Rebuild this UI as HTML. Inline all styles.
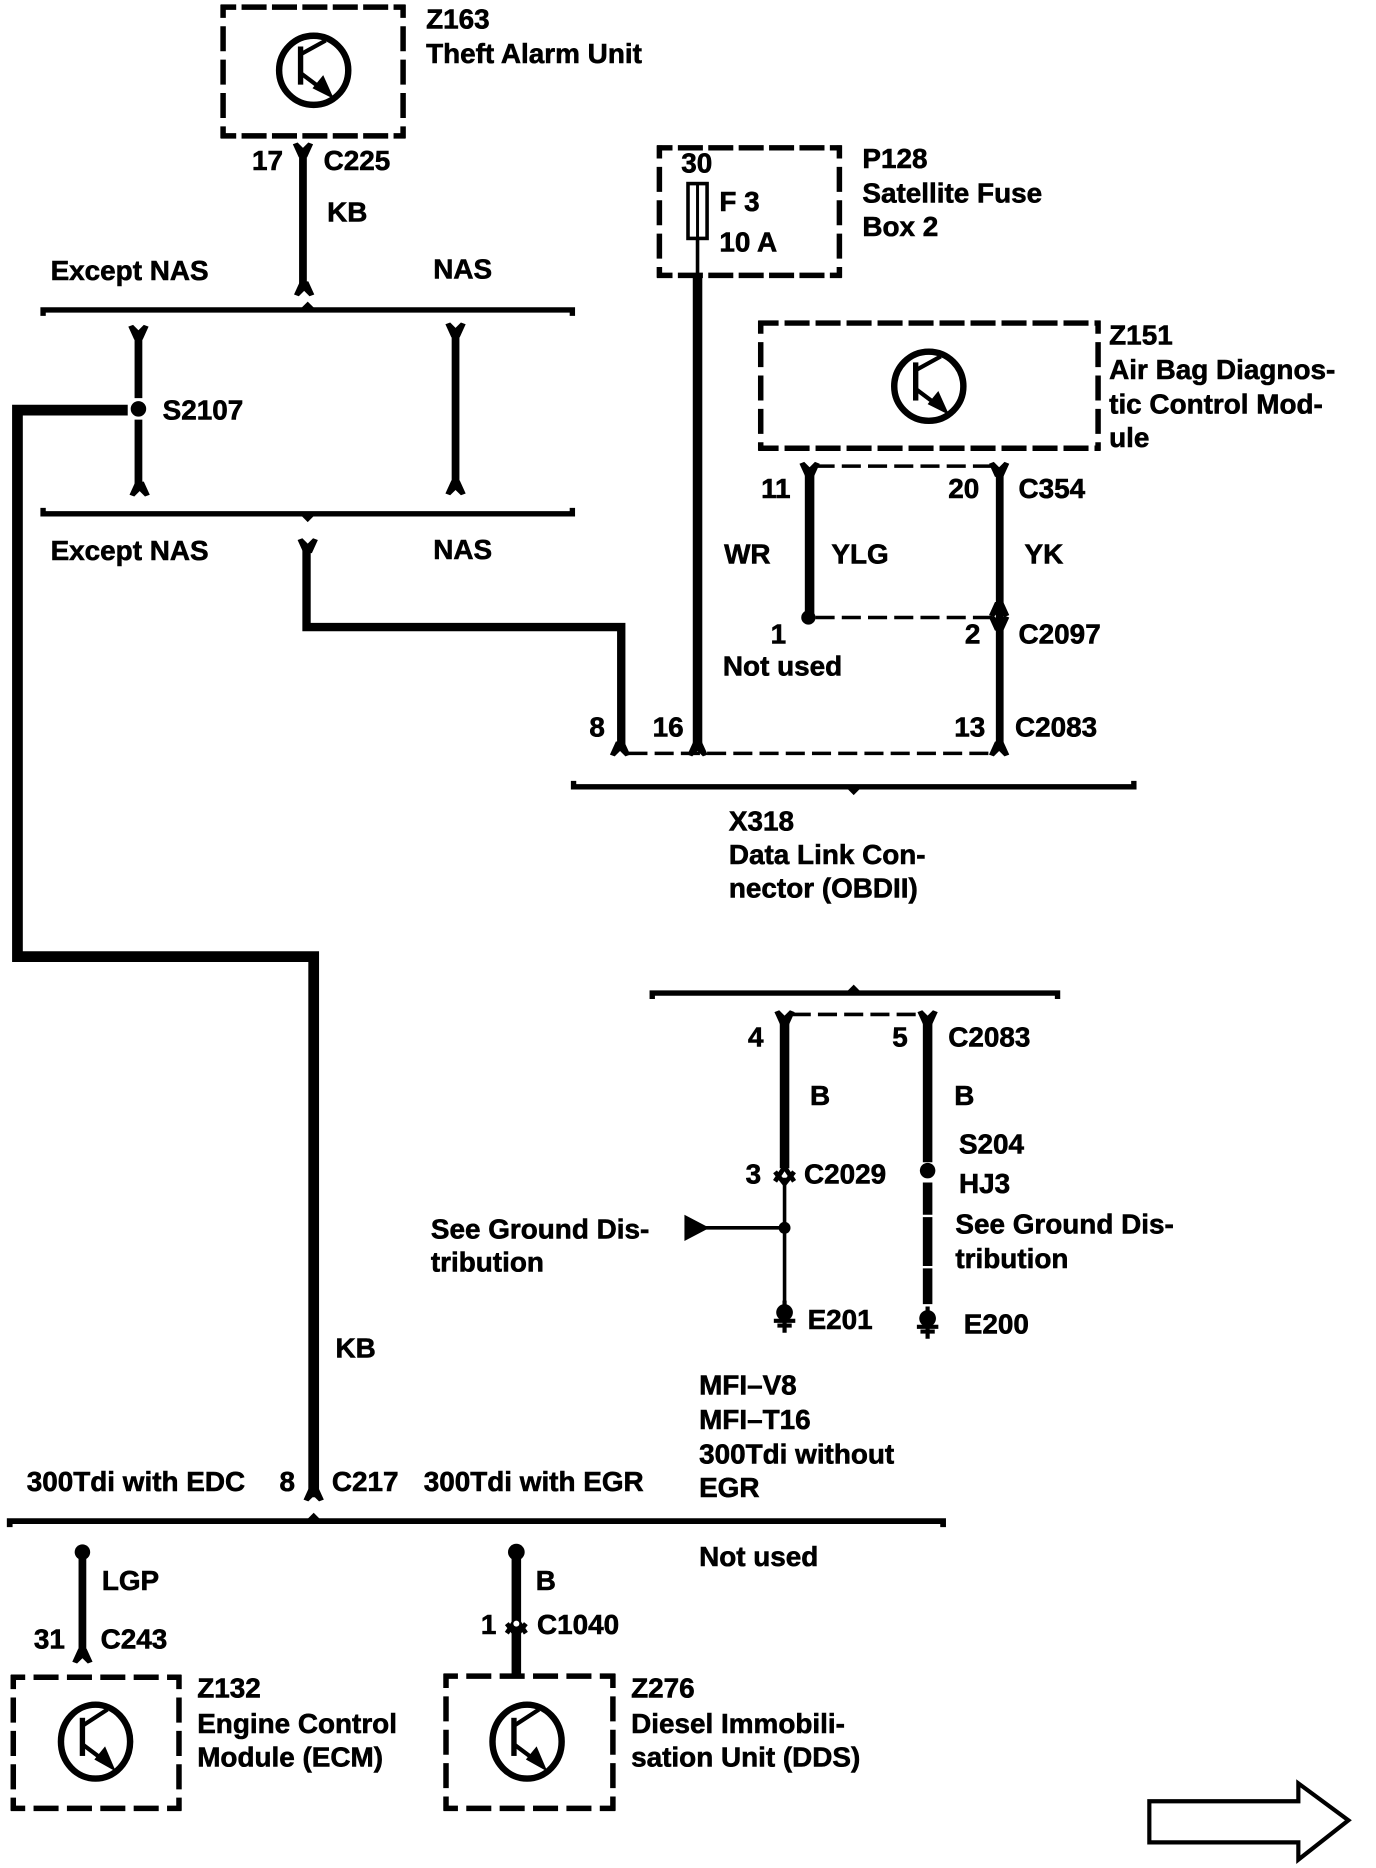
<!DOCTYPE html>
<html><head><meta charset="utf-8"><style>
html,body{margin:0;padding:0;background:#fff;width:1376px;height:1868px;overflow:hidden}
svg{display:block}
text{font-family:"Liberation Sans",sans-serif;font-weight:bold;font-size:23.4px;fill:#000;stroke:#000;stroke-width:.5px;transform:translate(-.7px,-1.2px)}
.b{fill:none;stroke:#000;stroke-width:4.6}
.w{fill:none;stroke:#000}
</style></head><body>
<svg width="1376" height="1868" viewBox="0 0 1154 1567" xmlns="http://www.w3.org/2000/svg">
<defs>
<g id="tr"><circle r="29" fill="none" stroke="#000" stroke-width="5.400"/><path d="M-11 -20V12" stroke="#000" stroke-width="4.500" fill="none"/><path d="M-10 -14L10 -25M-10 3L10 18" stroke="#000" stroke-width="3.500" fill="none"/><path d="M17 24L-1 15L8 4Z" fill="#000"/></g>
<g id="trn"><ellipse rx="29" ry="31" fill="none" stroke="#000" stroke-width="5.400"/><path d="M-11 -20V12" stroke="#000" stroke-width="4.500" fill="none"/><path d="M-10 -14L10 -27M-10 3L10 18" stroke="#000" stroke-width="3.500" fill="none"/><path d="M17 25L-1 15L8 4Z" fill="#000"/></g>
<path id="fk" d="M-8.500 -2L-4.500 -3.500L0 1L4.500 -3.500L8.500 -2L3.500 9H-3.500Z" fill="#000"/>
<path id="cl" d="M-8.500 2L-4.500 3.500L0 -1L4.500 3.500L8.500 2L3.500 -9H-3.500Z" fill="#000"/>
<g id="gnd"><circle cy="-4" r="7" fill="#000"/><path d="M-9 3H9M-6 7H6M0 -14V13" stroke="#000" stroke-width="3.500" fill="none"/></g>
<g id="xc"><path d="M-8 6L0 -6L8 6M-8 -2L0 8L8 -2" stroke="#000" stroke-width="4" fill="none"/></g>
</defs>

<!-- Z163 -->
<g class="b"><line x1="185" y1="6" x2="340" y2="6" stroke-dasharray="21 4.500" stroke-dashoffset="8"/><line x1="185" y1="114" x2="340" y2="114" stroke-dasharray="21 4.500" stroke-dashoffset="8"/><line x1="187" y1="4" x2="187" y2="116" stroke-dasharray="21 7" stroke-dashoffset="10"/><line x1="338" y1="4" x2="338" y2="116" stroke-dasharray="21 7" stroke-dashoffset="10"/></g>
<use href="#tr" x="263" y="59"/>
<text x="358" y="25">Z163</text><text x="358" y="54">Theft Alarm Unit</text>
<text x="212" y="144">17</text><text x="272" y="144">C225</text><text x="275" y="187">KB</text>
<path class="w" stroke-width="6.500" d="M254 124V242"/><use href="#fk" x="254" y="123"/><use href="#cl" x="255" y="245"/>
<text x="43" y="236">Except NAS</text><text x="364" y="235">NAS</text>
<!-- bar 1 -->
<path class="w" stroke-width="4.500" d="M36 265V260H480V265"/><path d="M253 258L258 253L263 258Z" fill="#000"/>
<path class="w" stroke-width="6.500" d="M116 278V334M116 352V411M382 276V410"/>
<use href="#fk" x="116" y="276"/><use href="#fk" x="382" y="274"/><use href="#cl" x="117" y="413"/><use href="#cl" x="382" y="412"/>
<circle cx="116" cy="343" r="6.500" fill="#000"/>
<path class="w" stroke-width="9" d="M107 344H14.500V802.500H263V1256"/>
<text x="137" y="353">S2107</text>
<!-- bar 2 -->
<path class="w" stroke-width="4.500" d="M36 426V431H480V426"/><path d="M253 433L258 438L263 433Z" fill="#000"/>
<text x="43" y="471">Except NAS</text><text x="364" y="470">NAS</text>
<use href="#fk" x="258" y="455"/>
<path class="w" stroke-width="7" d="M257 458V526H521V628"/>
<!-- P128 -->
<g class="b"><line x1="551" y1="124" x2="706" y2="124" stroke-dasharray="21 4.500" stroke-dashoffset="8"/><line x1="551" y1="231" x2="706" y2="231" stroke-dasharray="21 4.500" stroke-dashoffset="8"/><line x1="553" y1="122" x2="553" y2="233" stroke-dasharray="21 7" stroke-dashoffset="10"/><line x1="704" y1="122" x2="704" y2="233" stroke-dasharray="21 7" stroke-dashoffset="10"/></g>
<text x="572" y="146">30</text><text x="604" y="178">F 3</text><text x="604" y="212">10 A</text>
<rect x="577" y="154" width="16" height="46" fill="#fff" stroke="#000" stroke-width="3"/><path d="M585 154V200" stroke="#000" stroke-width="2.500"/>
<path class="w" stroke-width="3" d="M585 200V230"/>
<path class="w" stroke-width="8" d="M585 229V628"/>
<text x="724" y="142">P128</text><text x="724" y="171">Satellite Fuse</text><text x="724" y="199">Box 2</text>
<!-- Z151 -->
<g class="b"><line x1="636" y1="271" x2="923" y2="271" stroke-dasharray="21 5" stroke-dashoffset="4"/><line x1="636" y1="376" x2="923" y2="376" stroke-dasharray="21 5" stroke-dashoffset="4"/><line x1="638" y1="269" x2="638" y2="378" stroke-dasharray="21 7" stroke-dashoffset="10"/><line x1="921" y1="269" x2="921" y2="378" stroke-dasharray="21 7" stroke-dashoffset="10"/></g>
<use href="#tr" x="779" y="324"/>
<text x="931" y="290">Z151</text><text x="931" y="319">Air Bag Diagnos-</text><text x="931" y="348">tic Control Mod-</text><text x="931" y="376">ule</text>
<path class="w" stroke-width="3" stroke-dasharray="16 6" d="M684 391H832"/>
<path class="w" stroke-width="3" stroke-dasharray="16 6" d="M684 518H832"/>
<path class="w" stroke-width="8" d="M679 392V518"/><use href="#fk" x="679" y="391"/><circle cx="678" cy="518" r="6" fill="#000"/>
<path class="w" stroke-width="6.500" d="M838.500 392V628"/><use href="#fk" x="838" y="391"/><use href="#cl" x="838" y="514"/><use href="#fk" x="838" y="520"/>
<text x="639" y="419">11</text><text x="796" y="419">20</text><text x="855" y="419">C354</text>
<text x="608" y="474">WR</text><text x="698" y="474">YLG</text><text x="860" y="474">YK</text>
<text x="647" y="541">1</text><text x="607" y="568">Not used</text><text x="810" y="541">2</text><text x="855" y="541">C2097</text>
<text x="495" y="619">8</text><text x="548" y="619">16</text><text x="801" y="619">13</text><text x="852" y="619">C2083</text>
<path class="w" stroke-width="3" stroke-dasharray="16 6" d="M527 632H832"/>
<use href="#cl" x="520" y="631"/><use href="#cl" x="585" y="631"/><use href="#cl" x="838" y="631"/>
<!-- X318 -->
<path class="w" stroke-width="4.500" d="M481 655V660H951V655"/><path d="M711 662L716 667L721 662Z" fill="#000"/>
<text x="612" y="698">X318</text><text x="612" y="726">Data Link Con-</text><text x="612" y="754">nector (OBDII)</text>
<!-- bar 3 -->
<path class="w" stroke-width="4.500" d="M547 838V833H887V838"/><path d="M711 831L716 826L721 831Z" fill="#000"/>
<path class="w" stroke-width="3" stroke-dasharray="16 6" d="M664 851H772"/>
<path class="w" stroke-width="8" d="M658 853V980M778 853V975M778 992V1019M778 1021V1062M778 1064V1094"/>
<use href="#fk" x="658" y="851"/><use href="#fk" x="778" y="851"/>
<circle cx="778" cy="982" r="6.500" fill="#000"/>
<text x="628" y="879">4</text><text x="749" y="879">5</text><text x="796" y="879">C2083</text>
<text x="680" y="928">B</text><text x="801" y="928">B</text>
<text x="805" y="969">S204</text><text x="805" y="1002">HJ3</text><text x="802" y="1036">See Ground Dis-</text><text x="802" y="1065">tribution</text>
<text x="626" y="994">3</text><text x="675" y="994">C2029</text>
<use href="#xc" x="658" y="985"/>
<path class="w" stroke-width="3" d="M658 988V1100M592 1030H658"/>
<circle cx="658" cy="1030" r="5" fill="#000"/>
<path d="M574 1019V1041L595 1030Z" fill="#000"/>
<text x="362" y="1040">See Ground Dis-</text><text x="362" y="1068">tribution</text>
<use href="#gnd" x="658" y="1105"/><use href="#gnd" x="778" y="1110"/>
<text x="678" y="1116">E201</text><text x="809" y="1120">E200</text>
<text x="282" y="1140">KB</text>
<text x="587" y="1171">MFI–V8</text><text x="587" y="1200">MFI–T16</text><text x="587" y="1229">300Tdi without</text><text x="587" y="1257">EGR</text>
<text x="23" y="1252">300Tdi with EDC</text><text x="235" y="1252">8</text><text x="279" y="1252">C217</text><text x="356" y="1252">300Tdi with EGR</text>
<use href="#cl" x="263" y="1256"/>
<!-- bar 4 -->
<path class="w" stroke-width="4.800" d="M8 1281V1276H791V1281"/><path d="M258 1274L263 1269L268 1274Z" fill="#000"/>
<text x="587" y="1315">Not used</text>
<path class="w" stroke-width="6.500" d="M69 1300V1390"/><circle cx="69" cy="1302" r="6.500" fill="#000"/><use href="#cl" x="69" y="1392"/>
<text x="86" y="1335">LGP</text><text x="29" y="1384">31</text><text x="85" y="1384">C243</text>
<path class="w" stroke-width="8" d="M433 1302V1404"/><circle cx="433" cy="1302" r="7" fill="#000"/>
<use href="#xc" x="433" y="1364"/><circle cx="433" cy="1362" r="2.500" fill="#fff"/>
<text x="450" y="1335">B</text><text x="404" y="1372">1</text><text x="451" y="1372">C1040</text>
<!-- Z132 -->
<g class="b"><line x1="9" y1="1407" x2="152" y2="1407" stroke-dasharray="21 7" stroke-dashoffset="9"/><line x1="9" y1="1517" x2="152" y2="1517" stroke-dasharray="21 7" stroke-dashoffset="9"/><line x1="11" y1="1405" x2="11" y2="1519" stroke-dasharray="21 7" stroke-dashoffset="9"/><line x1="150" y1="1405" x2="150" y2="1519" stroke-dasharray="21 7" stroke-dashoffset="9"/></g>
<use href="#trn" x="80" y="1461"/>
<text x="166" y="1425">Z132</text><text x="166" y="1455">Engine Control</text><text x="166" y="1483">Module (ECM)</text>
<!-- Z276 -->
<g class="b"><line x1="372" y1="1406" x2="516" y2="1406" stroke-dasharray="21 7" stroke-dashoffset="9"/><line x1="372" y1="1517" x2="516" y2="1517" stroke-dasharray="21 7" stroke-dashoffset="9"/><line x1="374" y1="1404" x2="374" y2="1519" stroke-dasharray="21 7" stroke-dashoffset="9"/><line x1="514" y1="1404" x2="514" y2="1519" stroke-dasharray="21 7" stroke-dashoffset="9"/></g>
<use href="#trn" x="442" y="1461"/>
<text x="530" y="1425">Z276</text><text x="530" y="1455">Diesel Immobili-</text><text x="530" y="1483">sation Unit (DDS)</text>
<!-- arrow -->
<path d="M964 1511H1089V1496L1131 1527L1089 1560V1545.500H964Z" fill="#fff" stroke="#000" stroke-width="3.500" stroke-linejoin="miter"/>
</svg>
</body></html>
